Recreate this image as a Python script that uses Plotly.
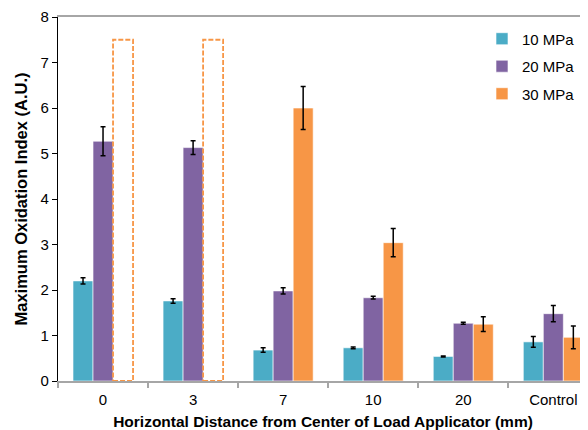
import plotly.graph_objects as go

categories = ["0", "3", "7", "10", "20", "Control"]
mpa10 = [2.20, 1.76, 0.68, 0.73, 0.54, 0.86]
mpa10_err = [0.07, 0.05, 0.05, 0.02, 0.01, 0.12]
mpa20 = [5.27, 5.13, 1.98, 1.83, 1.27, 1.48]
mpa20_err = [0.32, 0.15, 0.07, 0.03, 0.02, 0.18]
mpa30 = [None, None, 6.00, 3.04, 1.25, 0.96]
mpa30_err = [0, 0, 0.47, 0.31, 0.16, 0.25]
placeholder30 = [7.5, 7.5, None, None, None, None]

series = [
    ("10 MPa", mpa10, mpa10_err, "#4BACC6"),
    ("20 MPa", mpa20, mpa20_err, "#8064A2"),
    ("30 MPa", mpa30, mpa30_err, "#F79646"),
]

fig = go.Figure()
for i, (name, vals, errs, col) in enumerate(series):
    fig.add_trace(go.Bar(
        x=categories, y=vals, name=name, marker_color=col,
        marker_line=dict(color="white", width=0.6),
        legendgroup=name,
        error_y=dict(type="data", array=errs, visible=True, color="black",
                     thickness=1.5, width=2.5),
    ))

# dashed outline placeholders for 30 MPa bars
bargap = 1/3
nser = 3
bw = (1 - bargap) / nser
for idx, v in enumerate(placeholder30):
    if v is None:
        continue
    x0 = idx - (1 - bargap) / 2 + 2 * bw
    fig.add_shape(type="rect", xref="x", yref="y", x0=x0, x1=x0 + bw,
                  y0=0, y1=v, line=dict(color="#F79646", width=1.8, dash="5px,2px"),
                  fillcolor="rgba(0,0,0,0)", layer="above")

# page body has an 8px margin, so the figure is shifted by 8px
fig.update_layout(
    width=580, height=422,
    margin=dict(l=50, r=0, t=9, b=49),
    paper_bgcolor="white", plot_bgcolor="white",
    barmode="group", bargap=bargap, bargroupgap=0,
    font=dict(family="Liberation Sans, Arial", size=15, color="black"),
    showlegend=True,
    legend=dict(x=0.8, y=0.985, xanchor="left", yanchor="top",
                font=dict(size=15), tracegroupgap=5, traceorder="grouped",
                itemwidth=30, bgcolor="rgba(0,0,0,0)"),
)
fig.update_xaxes(
    range=[-0.5, 5.385], showgrid=False, showline=True, linecolor="#A6A6A6",
    linewidth=1.5, mirror=True, ticks="outside", tickson="boundaries",
    ticklen=5, tickcolor="#A6A6A6", tickwidth=1.5,
    tickfont=dict(size=15), ticklabelstandoff=4,
    title=dict(text="<b>Horizontal Distance from Center of Load Applicator (mm)</b>",
               font=dict(size=15.5), standoff=11),
)
fig.update_yaxes(
    range=[0, 8], dtick=1, showgrid=False, showline=True, linecolor="black",
    linewidth=1.2, ticks="outside", ticklen=5, tickcolor="black", zeroline=False,
    tickfont=dict(size=15),
    title=dict(text="<b>Maximum Oxidation Index (A.U.)</b>", font=dict(size=16.5),
               standoff=8),
)

fig.write_html("out.html")
